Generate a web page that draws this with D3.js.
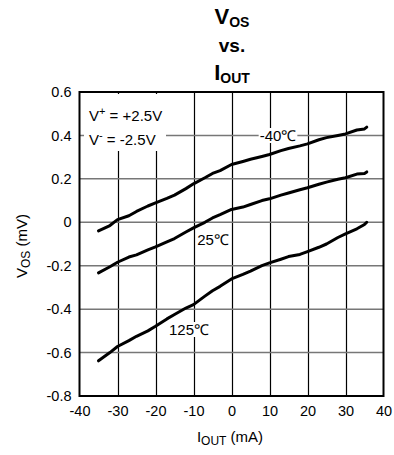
<!DOCTYPE html>
<html><head><meta charset="utf-8">
<script src="https://cdn.jsdelivr.net/npm/d3@7"></script>
<style>body{margin:0;background:#fff}svg{display:block;font-family:"Liberation Sans",Arial,sans-serif}</style>
</head><body><svg id="c" width="394" height="455"></svg>
<script>
const xTicks = [-40,-30,-20,-10,0,10,20,30,40];
const yTicks = [0.6,0.4,0.2,0,-0.2,-0.4,-0.6,-0.8];
const iout = [-35,-32,-30,-27,-25,-22,-20,-17,-15,-12,-10,-7,-5,-3,0,3,5,8,10,13,15,18,20,23,25,28,30,33,35,35.6];
const vosM40 = [-0.04,-0.015,0.012,0.03,0.05,0.075,0.089,0.11,0.125,0.155,0.177,0.205,0.225,0.238,0.266,0.28,0.29,0.303,0.312,0.33,0.34,0.352,0.361,0.38,0.39,0.4,0.407,0.425,0.43,0.438];
const vos25 = [-0.233,-0.205,-0.184,-0.16,-0.15,-0.127,-0.113,-0.09,-0.075,-0.045,-0.026,0.0,0.02,0.035,0.059,0.07,0.082,0.1,0.108,0.125,0.135,0.15,0.159,0.175,0.185,0.198,0.205,0.222,0.225,0.232];
const vos125 = [-0.638,-0.6,-0.572,-0.545,-0.525,-0.5,-0.479,-0.445,-0.425,-0.395,-0.379,-0.34,-0.315,-0.295,-0.261,-0.24,-0.225,-0.2,-0.187,-0.17,-0.158,-0.148,-0.135,-0.115,-0.1,-0.07,-0.053,-0.03,-0.01,0.0];
const seriesLabels = ["-40℃","25℃","125℃"];

const FONT = "Liberation Sans, Arial, sans-serif";
const svg = d3.select("#c");
const L=79.5, T=92, W=304, H=304;
const x = d3.scaleLinear().domain([-40,40]).range([L,L+W]);
const y = d3.scaleLinear().domain([-0.8,0.6]).range([T+H,T]);

// grid
const g = svg.append("g");
g.selectAll(".vg").data(xTicks.slice(1,-1)).join("line")
  .attr("x1",d=>Math.round(x(d))+0.5).attr("x2",d=>Math.round(x(d))+0.5)
  .attr("y1",T).attr("y2",T+H).attr("stroke","#000").attr("stroke-width",1.2);
g.selectAll(".hg").data(yTicks.slice(1,-1)).join("line")
  .attr("y1",d=>y(d)).attr("y2",d=>y(d))
  .attr("x1",L).attr("x2",L+W).attr("stroke","#777").attr("stroke-width",1.5);

// axes text
const fmtX = d=>String(d);
const fmtY = d=>d===0?"0":d.toFixed(1);
const xa = d3.axisBottom(x).tickValues(xTicks).tickSize(0).tickPadding(10).tickFormat(fmtX);
svg.append("g").attr("transform",`translate(0,${T+H})`).call(xa)
  .attr("font-size",14.5).attr("font-family",FONT)
  .call(s=>s.select(".domain").remove())
  .selectAll("text").attr("fill","#000");
const ya = d3.axisLeft(y).tickValues(yTicks).tickSize(0).tickPadding(8).tickFormat(fmtY);
svg.append("g").attr("transform",`translate(${L},0)`).call(ya)
  .attr("font-size",14.5).attr("font-family",FONT)
  .call(s=>s.select(".domain").remove())
  .selectAll("text").attr("fill","#000");

// legend background
svg.append("rect").attr("x",84).attr("y",T+2).attr("width",82).attr("height",57).attr("fill","#fff");

// curves
const line = d3.line().x((d,i)=>x(iout[i])).y(d=>y(d)).curve(d3.curveLinear);
[vosM40,vos25,vos125].forEach(s=>{
  svg.append("path").attr("d",line(s)).attr("fill","none").attr("stroke","#000")
    .attr("stroke-width",3).attr("stroke-linejoin","round").attr("stroke-linecap","round");
});

// series labels with white background
function label(txt,cx,by){
  const grp = svg.append("g");
  const r = grp.append("rect").attr("fill","#fff");
  const t = grp.append("text").attr("x",cx).attr("y",by).attr("font-size",15).attr("text-anchor","middle").text(txt);
  const b = t.node().getBBox();
  r.attr("x",b.x-1).attr("y",b.y+1).attr("width",b.width+2).attr("height",b.height-2);
}
label(seriesLabels[0],278,141);
label(seriesLabels[1],213,245);
label(seriesLabels[2],189,335);

// supply labels
const sup = svg.append("text").attr("x",89).attr("y",121).attr("font-size",15);
sup.append("tspan").text("V");
sup.append("tspan").attr("dy",-6).attr("font-size",11).text("+");
sup.append("tspan").attr("dy",6).text(" = +2.5V");
const sdn = svg.append("text").attr("x",89).attr("y",145).attr("font-size",15);
sdn.append("tspan").text("V");
sdn.append("tspan").attr("dy",-6).attr("font-size",11).text("-");
sdn.append("tspan").attr("dy",6).text(" = -2.5V");

// frame
svg.append("rect").attr("x",L).attr("y",T).attr("width",W).attr("height",H)
  .attr("fill","none").attr("stroke","#000").attr("stroke-width",2);

// title
const tt = svg.append("g").attr("font-weight","bold").attr("text-anchor","middle");
const t1 = tt.append("text").attr("x",232).attr("y",24).attr("font-size",22);
t1.append("tspan").text("V"); t1.append("tspan").attr("font-size",14).attr("dy",3).text("OS");
tt.append("text").attr("x",232).attr("y",52).attr("font-size",19).text("vs.");
const t3 = tt.append("text").attr("x",232).attr("y",80).attr("font-size",22);
t3.append("tspan").text("I"); t3.append("tspan").attr("font-size",14).attr("dy",3).text("OUT");

// axis titles
const xt = svg.append("text").attr("x",230).attr("y",442).attr("font-size",15).attr("text-anchor","middle");
xt.append("tspan").text("I"); xt.append("tspan").attr("font-size",12).attr("dy",3).text("OUT");
xt.append("tspan").attr("dy",-3).text(" (mA)");
const yt = svg.append("text").attr("transform","translate(27,246) rotate(-90)").attr("font-size",15).attr("text-anchor","middle");
yt.append("tspan").text("V"); yt.append("tspan").attr("font-size",12).attr("dy",3).text("OS");
yt.append("tspan").attr("dy",-3).text(" (mV)");
</script></body></html>
